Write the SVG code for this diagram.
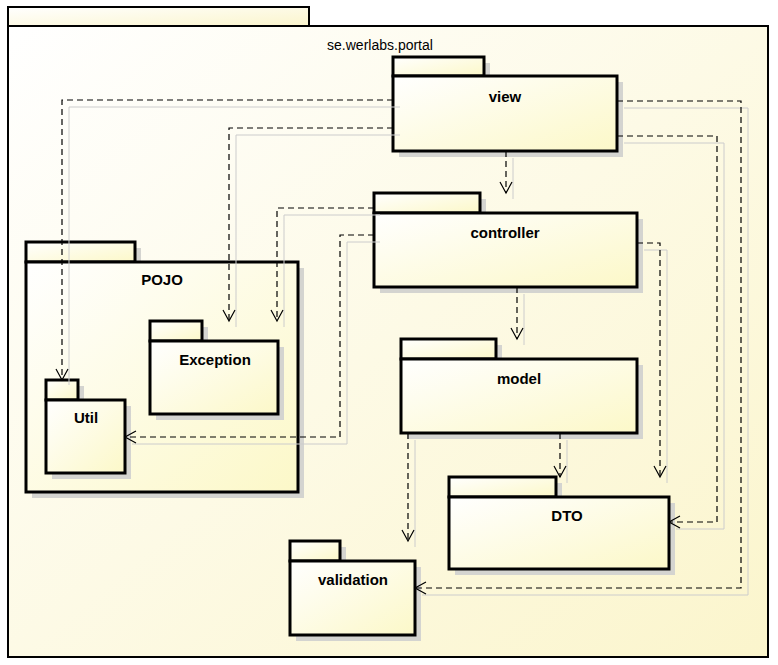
<svg xmlns="http://www.w3.org/2000/svg" width="778" height="665" viewBox="0 0 778 665">
<defs>
<linearGradient id="g" x1="0" y1="0" x2="1" y2="1"><stop offset="0" stop-color="#ffffff"/><stop offset="1" stop-color="#fcf8c8"/></linearGradient>
<linearGradient id="bg" x1="0" y1="0" x2="1" y2="1"><stop offset="0" stop-color="#ffffff"/><stop offset="1" stop-color="#fbf5cc"/></linearGradient>
<marker id="a" markerWidth="14" markerHeight="14" refX="12" refY="7" orient="auto" markerUnits="userSpaceOnUse"><path d="M1,1 L12,7 L1,13" fill="none" stroke="#000" stroke-width="1.2"/></marker>
</defs>
<style>
.s{fill:#d4d4d0}
.b{fill:url(#g);stroke:#000;stroke-width:3}
.c path{fill:none;stroke:#000;stroke-width:1.2;stroke-dasharray:6,4;marker-end:url(#a)}
.h path{fill:none;stroke:#ccc;stroke-width:1}
text{font-family:"Liberation Sans",Arial,sans-serif;font-weight:bold;font-size:15px;text-anchor:middle;fill:#000}
</style>
<rect width="778" height="665" fill="#fff"/>
<g id="portal">
<rect x="8" y="7" width="301" height="19" fill="url(#bg)" stroke="#000" stroke-width="2"/>
<rect x="8" y="26" width="760" height="631" fill="url(#bg)" stroke="#000" stroke-width="2"/>
<text x="380" y="50" style="font-weight:normal;font-size:14px">se.werlabs.portal</text>
</g>
<g id="POJO"><rect class="s" x="32" y="248" width="109" height="20"/><rect class="s" x="32" y="268" width="272" height="230"/><rect class="b" x="26" y="242" width="109" height="20"/><rect class="b" x="26" y="262" width="272" height="230"/><text x="162" y="285">POJO</text></g>
<g id="view"><rect class="s" x="399" y="63" width="91" height="19"/><rect class="s" x="399" y="82" width="224" height="75"/><rect class="b" x="393" y="57" width="91" height="19"/><rect class="b" x="393" y="76" width="224" height="75"/><text x="505" y="102">view</text></g>
<g id="controller"><rect class="s" x="380" y="199" width="106" height="20"/><rect class="s" x="380" y="219" width="263" height="74"/><rect class="b" x="374" y="193" width="106" height="20"/><rect class="b" x="374" y="213" width="263" height="74"/><text x="505" y="238">controller</text></g>
<g id="Exception"><rect class="s" x="156" y="327" width="52" height="20"/><rect class="s" x="156" y="347" width="128" height="73"/><rect class="b" x="150" y="321" width="52" height="20"/><rect class="b" x="150" y="341" width="128" height="73"/><text x="215" y="365">Exception</text></g>
<g id="Util"><rect class="s" x="52" y="386" width="32" height="20"/><rect class="s" x="52" y="406" width="79" height="73"/><rect class="b" x="46" y="380" width="32" height="20"/><rect class="b" x="46" y="400" width="79" height="73"/><text x="86" y="423">Util</text></g>
<g id="model"><rect class="s" x="407" y="345" width="95" height="20"/><rect class="s" x="407" y="365" width="236" height="74"/><rect class="b" x="401" y="339" width="95" height="20"/><rect class="b" x="401" y="359" width="236" height="74"/><text x="519" y="384">model</text></g>
<g id="DTO"><rect class="s" x="455" y="483" width="107" height="20"/><rect class="s" x="455" y="503" width="220" height="72"/><rect class="b" x="449" y="477" width="107" height="20"/><rect class="b" x="449" y="497" width="220" height="72"/><text x="567" y="521">DTO</text></g>
<g id="validation"><rect class="s" x="296" y="547" width="50" height="20"/><rect class="s" x="296" y="567" width="125" height="74"/><rect class="b" x="290" y="541" width="50" height="20"/><rect class="b" x="290" y="561" width="125" height="74"/><text x="353" y="585">validation</text></g>
<g id="connectors">
<g class="h">
<path d="M400,107 H69 V385"/><path d="M400,135 H236 V327"/><path d="M513,158 V199"/><path d="M380,215 H284 V327"/><path d="M380,242 H347 V444 H132"/><path d="M644,250 H667 V483"/><path d="M524,294 V345"/><path d="M624,108 H748 V595 H422"/><path d="M624,143 H724 V529 H676"/><path d="M567,440 V483"/><path d="M415,440 V547"/>
</g>
<g class="c">
<path d="M393,100 H62 V380"/><path d="M393,128 H229 V321"/><path d="M506,151 V193"/><path d="M374,208 H277 V321"/><path d="M374,235 H340 V437 H125"/><path d="M637,243 H660 V477"/><path d="M517,287 V339"/><path d="M617,101 H741 V588 H415"/><path d="M617,136 H717 V522 H669"/><path d="M560,433 V477"/><path d="M408,433 V541"/>
</g>
</g>
</svg>
